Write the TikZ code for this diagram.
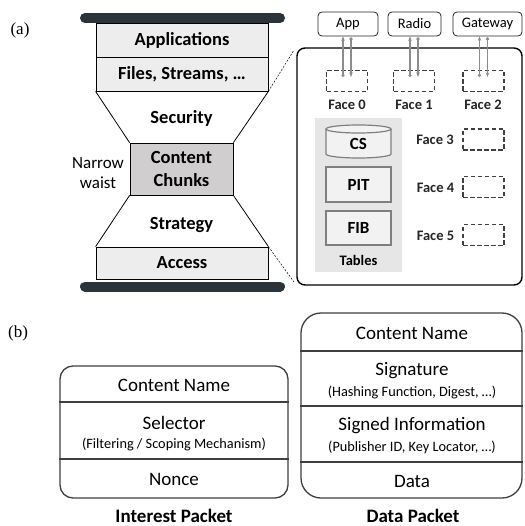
\documentclass[tikz,border=0pt]{standalone}
\usepackage{fontspec}
\setmainfont{Carlito}
\newfontfamily\serifpart{Liberation Serif}
\usetikzlibrary{arrows.meta}
\definecolor{bardark}{HTML}{2B333B}
\definecolor{layerfill}{HTML}{EDEDED}
\definecolor{waistfill}{HTML}{D0CECE}
\definecolor{tablefill}{HTML}{E6E6E6}
\definecolor{cellfill}{HTML}{F2F2F2}
\definecolor{cellborder}{HTML}{7F7F7F}
\definecolor{dashgray}{HTML}{404040}
\definecolor{arrowgray}{HTML}{8C8C8C}
\definecolor{pktborder}{HTML}{3F3F3F}
\tikzset{
  layer/.style={draw=black, line width=0.8pt, fill=layerfill, minimum width=172pt, inner sep=0pt,
    font=\fontsize{18.5}{20}\selectfont\bfseries},
  hostbox/.style={draw=black!85, line width=0.8pt, rounded corners=4pt, inner sep=0pt, minimum height=24pt,
    font=\fontsize{14.5}{16}\selectfont},
  facebox/.style={draw=dashgray, line width=1.4pt, dash pattern=on 4.5pt off 2.5pt, minimum width=41pt, minimum height=21pt, inner sep=0pt},
  facelbl/.style={font=\fontsize{14.5}{16}\selectfont\bfseries, text=black!85},
  cell/.style={draw=cellborder, line width=1.2pt, fill=cellfill, minimum width=65pt, inner sep=0pt,
    font=\fontsize{17}{18}\selectfont\bfseries},
  pkt/.style={draw=pktborder, line width=1.3pt, inner sep=0pt},
  pktbig/.style={font=\fontsize{19}{21}\selectfont},
  pktsmall/.style={font=\fontsize{14.3}{16}\selectfont},
  pktdiv/.style={draw=pktborder, line width=1.3pt},
  pktlbl/.style={font=\fontsize{19}{21}\selectfont\bfseries, inner sep=0pt, anchor=base},
  updn/.style={draw=arrowgray, line width=1.1pt, {Circle[length=3.2pt]}-{Stealth[length=4.5pt,width=3.5pt]}},
}
\begin{document}
\begin{tikzpicture}[x=1pt,y=-1pt]
\useasboundingbox (0,0) rectangle (524,526);
% ---------- (a) ----------
\node[font=\serifpart\fontsize{17}{18}\selectfont] (la) at (20,30) {(a)};
\draw[bardark, line width=10pt, line cap=round] (85,18) -- (280,18);
\draw[bardark, line width=10pt, line cap=round] (85,286.5) -- (280,286.5);
\node[layer, minimum height=34pt] (apps) at (182,40) {Applications};
\node[layer, minimum height=34pt] (files) at (182,74) {Files, Streams, \dots};
\node[layer, fill=waistfill, minimum width=103pt, minimum height=52pt, align=center,
  font=\fontsize{18.5}{23}\selectfont\bfseries] (chunks) at (181.5,169) {Content\\Chunks};
\node[layer, minimum height=32pt] (access) at (182,263) {Access};
\draw[line width=0.8pt] (files.south west) -- (chunks.north west);
\draw[line width=0.8pt] (files.south east) -- (chunks.north east);
\draw[line width=0.8pt] (chunks.south west) -- (access.north west);
\draw[line width=0.8pt] (chunks.south east) -- (access.north east);
\node[font=\fontsize{18.5}{20}\selectfont\bfseries] (sec) at (181.5,118) {Security};
\node[font=\fontsize{18.5}{20}\selectfont\bfseries] (strat) at (181.5,225) {Strategy};
\node[font=\fontsize{17}{20}\selectfont, align=center] (waist) at (98,173) {Narrow\\waist};
% router
\node[draw=black, line width=1.4pt, rounded corners=8pt, minimum width=225pt, minimum height=237pt, inner sep=0pt] (router) at (409.5,166.5) {};
\coordinate (zt) at (294,50);
\coordinate (zb) at (294,282);
\draw[dashed, line width=0.5pt, dash pattern=on 2pt off 1.5pt] (files.south east) -- (zt);
\draw[dashed, line width=0.5pt, dash pattern=on 2pt off 1.5pt] (access.north east) -- (zb);
\node[hostbox, minimum width=60pt] (app) at (348,24) {App};
\node[hostbox, minimum width=53pt] (radio) at (414.5,24) {Radio};
\node[hostbox, minimum width=69pt] (gw) at (487.5,24) {Gateway};
\node[facebox] (f0) at (347,81) {};
\node[facebox] (f1) at (414,81) {};
\node[facebox] (f2) at (483.5,81) {};
\node[facebox] (f3) at (483.5,139.5) {};
\node[facebox] (f4) at (483.5,187) {};
\node[facebox] (f5) at (483.5,235) {};
\node[facelbl] (l0) at (347,105) {Face 0};
\node[facelbl] (l1) at (414,105) {Face 1};
\node[facelbl] (l2) at (483,105) {Face 2};
\node[facelbl] (l3) at (435,140) {Face 3};
\node[facelbl] (l4) at (435.5,188) {Face 4};
\node[facelbl] (l5) at (435.5,236) {Face 5};
\foreach \f/\h in {f0/app, f1/radio, f2/gw}{
  \draw[updn] ([xshift=-4pt,yshift=4pt]\f.center) -- ([xshift=-4pt]\f.center |- \h.south);
  \draw[updn] ([xshift=4pt,yshift=-1pt]\f.center |- \h.south) -- ([xshift=4pt,yshift=4pt]\f.center);
}
% tables
\node[fill=tablefill, minimum width=87pt, minimum height=154pt, inner sep=0pt] (tables) at (358.5,195) {};
\fill[cellfill] (326,129) -- (326,154) arc[start angle=180, end angle=360, x radius=32.5pt, y radius=4pt] -- (391,129) -- cycle;
\draw[cellborder, line width=1.2pt] (326,129) -- (326,154) arc[start angle=180, end angle=360, x radius=32.5pt, y radius=4pt] -- (391,129);
\draw[cellborder, line width=1.2pt, fill=cellfill] (358.5,129) ellipse[x radius=32.5pt, y radius=4pt];
\node[font=\fontsize{17}{18}\selectfont\bfseries] (cs) at (358.5,144) {CS};
\node[cell, minimum height=35pt] (pit) at (358.5,184.5) {PIT};
\node[cell, minimum height=34pt] (fib) at (358.5,228) {FIB};
\node[font=\fontsize{14.5}{16}\selectfont\bfseries] (tlbl) at (358.5,260) {Tables};
% ---------- (b) ----------
\node[font=\serifpart\fontsize{17}{18}\selectfont] (lb) at (18,333) {(b)};
% interest packet
\node[pkt, rounded corners=13pt, minimum width=228pt, minimum height=132pt] (interest) at (174,432) {};
\draw[pktdiv] (interest.west |- 0,402) -- (interest.east |- 0,402);
\draw[pktdiv] (interest.west |- 0,459) -- (interest.east |- 0,459);
\node[pktbig] (icn) at (174,385) {Content Name};
\node[pktbig] (isel) at (174,423) {Selector};
\node[pktsmall] (isels) at (174,444) {(Filtering / Scoping Mechanism)};
\node[pktbig] (inon) at (174,479) {Nonce};
\node[pktlbl] (ilbl) at (174,522) {Interest Packet};
% data packet
\node[pkt, rounded corners=20pt, minimum width=221pt, minimum height=185pt] (data) at (411.5,405.5) {};
\draw[pktdiv] (data.west |- 0,351) -- (data.east |- 0,351);
\draw[pktdiv] (data.west |- 0,406) -- (data.east |- 0,406);
\draw[pktdiv] (data.west |- 0,462) -- (data.east |- 0,462);
\node[pktbig] (dcn) at (412,333) {Content Name};
\node[pktbig] (dsig) at (412,371) {Signature};
\node[pktsmall] (dsigs) at (412,392) {(Hashing Function, Digest, \dots)};
\node[pktbig] (dinf) at (412,426) {Signed Information};
\node[pktsmall] (dinfs) at (412,447) {(Publisher ID, Key Locator, \dots)};
\node[pktbig] (ddat) at (412,481) {Data};
\node[pktlbl] (dlbl) at (413,522) {Data Packet};
\end{tikzpicture}
\end{document}
